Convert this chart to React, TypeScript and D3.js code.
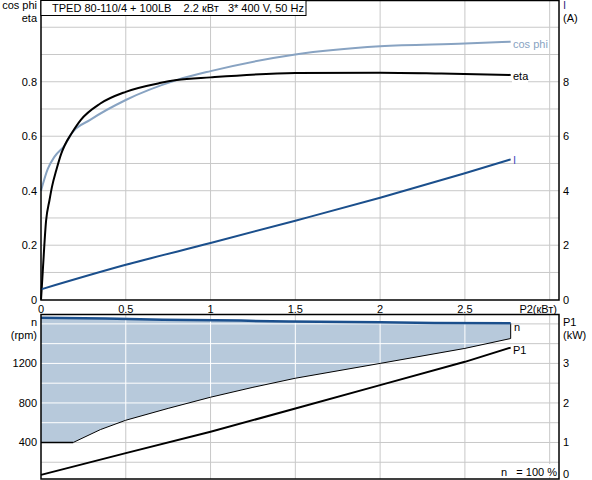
import React from "react";
import * as d3 from "d3";

// P2 (kW) grid for each curve
const cosPhiP2 = [0, 0.04, 0.08, 0.14, 0.18, 0.29, 0.5, 0.8, 1.0, 1.5, 2.0, 2.5, 2.77];
const cosPhiVal = [0.4, 0.48, 0.525, 0.567, 0.61, 0.66, 0.733, 0.806, 0.839, 0.9, 0.93, 0.94, 0.947];

const etaP2 = [0, 0.01, 0.03, 0.05, 0.065, 0.09, 0.12, 0.14, 0.18, 0.235, 0.35, 0.5, 0.7, 0.8, 1.0, 1.5, 2.0, 2.36, 2.77];
const etaVal = [0, 0.1, 0.29, 0.365, 0.415, 0.475, 0.537, 0.567, 0.61, 0.66, 0.72, 0.763, 0.795, 0.806, 0.816, 0.832, 0.833, 0.83, 0.825];

const currentP2 = [0, 0.5, 1.0, 1.5, 2.0, 2.5, 2.77];
const currentVal = [0.38, 1.28, 2.08, 2.9, 3.74, 4.64, 5.15];

const speedP2 = [0, 0.38, 0.72, 1.18, 1.46, 2.0, 2.32, 2.77];
const speedVal = [1662, 1655, 1643, 1633, 1623, 1616, 1609, 1606];

const minSpeedP2 = [0, 0.19, 0.35, 0.5, 0.75, 1.0, 1.25, 1.5, 2.0, 2.5, 2.77];
const minSpeedVal = [400, 400, 530, 625, 745, 858, 958, 1050, 1200, 1352, 1452];

const p1P2 = [0, 0.5, 1.0, 1.5, 2.0, 2.5, 2.77];
const p1Val = [0.18, 0.73, 1.27, 1.86, 2.45, 3.04, 3.4];

const xTicks = [0, 0.5, 1, 1.5, 2, 2.5];
const xGrid = [0.5, 1, 1.5, 2, 2.5, 3];
const effTicks = [0, 0.2, 0.4, 0.6, 0.8];
const effGrid = [0.1, 0.2, 0.3, 0.4, 0.5, 0.6, 0.7, 0.8, 0.9, 1.0];
const ampTicks = [0, 2, 4, 6, 8];
const rpmTicks = [400, 800, 1200];
const rpmGrid = [200, 400, 600, 800, 1000, 1200, 1400, 1600];
const kwTicks = [1, 2, 3];

const NB = "\u00a0";
const title = `TPED 80-110/4 + 100LB${NB}${NB}${NB} 2.2 кВт${NB}${NB} 3* 400 V, 50 Hz`;
const speedNote = `n${NB}${NB} = 100 %`;

const C_DARK = "#1b4f8c";
const C_COS = "#88a3c2";
const C_FILL = "#b7c9db";
const C_GRID = "#c8c8c8";

const left = 41;
const right = 559;

const App: React.FC = () => {
  const x = d3.scaleLinear().domain([0, 3.055]).range([left, right]);
  const yEff = d3.scaleLinear().domain([0, 1.1]).range([299.7, 0]);
  const yAmp = d3.scaleLinear().domain([0, 11]).range([299.7, 0]);
  const yRpm = d3.scaleLinear().domain([0, 1700]).range([482, 314]);
  const yKw = d3.scaleLinear().domain([0, 4.25]).range([482, 314]);

  const smooth = d3.line<[number, number]>().curve(d3.curveMonotoneX);
  const straight = d3.line<[number, number]>();

  const cosPts = cosPhiP2.map((p, i) => [x(p), yEff(cosPhiVal[i])] as [number, number]);
  const etaPts = etaP2.map((p, i) => [x(p), yEff(etaVal[i])] as [number, number]);
  const ampPts = currentP2.map((p, i) => [x(p), yAmp(currentVal[i])] as [number, number]);
  const nPts = speedP2.map((p, i) => [x(p), yRpm(speedVal[i])] as [number, number]);
  const minPts = minSpeedP2.map((p, i) => [x(p), yRpm(minSpeedVal[i])] as [number, number]);
  const p1Pts = p1P2.map((p, i) => [x(p), yKw(p1Val[i])] as [number, number]);

  const fillPath = (straight([...nPts, ...minPts.slice().reverse()]) as string) + "Z";
  const nEnd = nPts[nPts.length - 1];
  const minEnd = minPts[minPts.length - 1];

  const font = "'Liberation Sans', Arial, sans-serif";

  const lowerGrid = (color: string) => (
    <g stroke={color} strokeWidth={1}>
      {xGrid.map((v) => (
        <line key={"lx" + v} x1={x(v)} x2={x(v)} y1={314} y2={479} />
      ))}
      {rpmGrid.map((v) => (
        <line key={"ly" + v} x1={left} x2={right} y1={yRpm(v)} y2={yRpm(v)} />
      ))}
    </g>
  );

  return (
    <svg
      width={592}
      height={480}
      style={{ position: "absolute", left: 0, top: 0, background: "#fff" }}
      fontFamily={font}
      fontSize={11}
    >
      <defs>
        <clipPath id="fillClip">
          <path d={fillPath} />
        </clipPath>
      </defs>

      {/* upper grid */}
      <g stroke={C_GRID} strokeWidth={1}>
        {xGrid.map((v) => (
          <line key={"ux" + v} x1={x(v)} x2={x(v)} y1={0} y2={300} />
        ))}
        {effGrid.map((v) => (
          <line key={"uy" + v} x1={left} x2={right} y1={yEff(v)} y2={yEff(v)} />
        ))}
      </g>

      {/* upper curves */}
      <path d={smooth(cosPts) as string} fill="none" stroke={C_COS} strokeWidth={2} />
      <path d={smooth(etaPts) as string} fill="none" stroke="#000" strokeWidth={2} />
      <path d={smooth(ampPts) as string} fill="none" stroke={C_DARK} strokeWidth={2} />

      {/* curve labels */}
      <rect x={512} y={37} width={36} height={13} fill="#fff" />
      <text x={513} y={48} fill={C_COS}>cos phi</text>
      <rect x={512} y={70} width={16} height={13} fill="#fff" />
      <text x={513} y={80} fill="#000">eta</text>
      <text x={513} y={164} fill="#4a4fc0">I</text>

      {/* upper frame */}
      <rect x={41} y={0.5} width={518} height={299.5} fill="none" stroke="#000" strokeWidth={1.5} />
      <rect x={41} y={0.5} width={265} height={15} fill="#fff" stroke="#000" strokeWidth={1} />
      <text x={52} y={12} fill="#000">{title}</text>

      {/* upper axes labels */}
      {effTicks.map((v) => (
        <text key={"el" + v} x={37} y={yEff(v) + 4} textAnchor="end">
          {v === 0 ? "0" : v.toFixed(1)}
        </text>
      ))}
      <text x={37} y={9} textAnchor="end">cos phi</text>
      <text x={37} y={22} textAnchor="end">eta</text>
      {ampTicks.map((v) => (
        <text key={"al" + v} x={563} y={yAmp(v) + 4}>{v}</text>
      ))}
      <text x={563} y={9} fill="#3a2f80">I</text>
      <text x={563} y={22}>(A)</text>
      {xTicks.map((v) => (
        <text key={"xl" + v} x={x(v)} y={313} textAnchor="middle">{v}</text>
      ))}
      <text x={557} y={313} textAnchor="end">P2(кВт)</text>

      {/* lower plot */}
      {lowerGrid(C_GRID)}
      <path d={fillPath} fill={C_FILL} stroke="none" />
      <g clipPath="url(#fillClip)">{lowerGrid("#ffffff")}</g>

      <path d={straight(minPts.slice(1)) as string} fill="none" stroke="#000" strokeWidth={1} />
      <path d={straight(minPts.slice(0, 2)) as string} fill="none" stroke="#000" strokeWidth={1.6} />
      <line x1={minEnd[0]} x2={nEnd[0]} y1={minEnd[1]} y2={nEnd[1]} stroke="#000" strokeWidth={1} />
      <path d={straight(nPts) as string} fill="none" stroke={C_DARK} strokeWidth={2.5} />
      <path d={straight(p1Pts) as string} fill="none" stroke="#000" strokeWidth={2} />

      <text x={514} y={331} fill="#000">n</text>
      <text x={513} y={354} fill="#000">P1</text>

      <rect x={498} y={464} width={58} height={13} fill="#fff" />
      <text x={501} y={476}>{speedNote}</text>

      <rect x={41} y={314.5} width={518} height={164.5} fill="none" stroke="#000" strokeWidth={1.5} />

      {rpmTicks.map((v) => (
        <text key={"rl" + v} x={37} y={yRpm(v) + 4} textAnchor="end">{v}</text>
      ))}
      <text x={37} y={326} textAnchor="end">n</text>
      <text x={37} y={339} textAnchor="end">(rpm)</text>
      {kwTicks.map((v) => (
        <text key={"kl" + v} x={563} y={yKw(v) + 4}>{v}</text>
      ))}
      <text x={563} y={478}>0</text>
      <text x={563} y={326}>P1</text>
      <text x={563} y={339}>(kW)</text>
    </svg>
  );
};

export default App;
